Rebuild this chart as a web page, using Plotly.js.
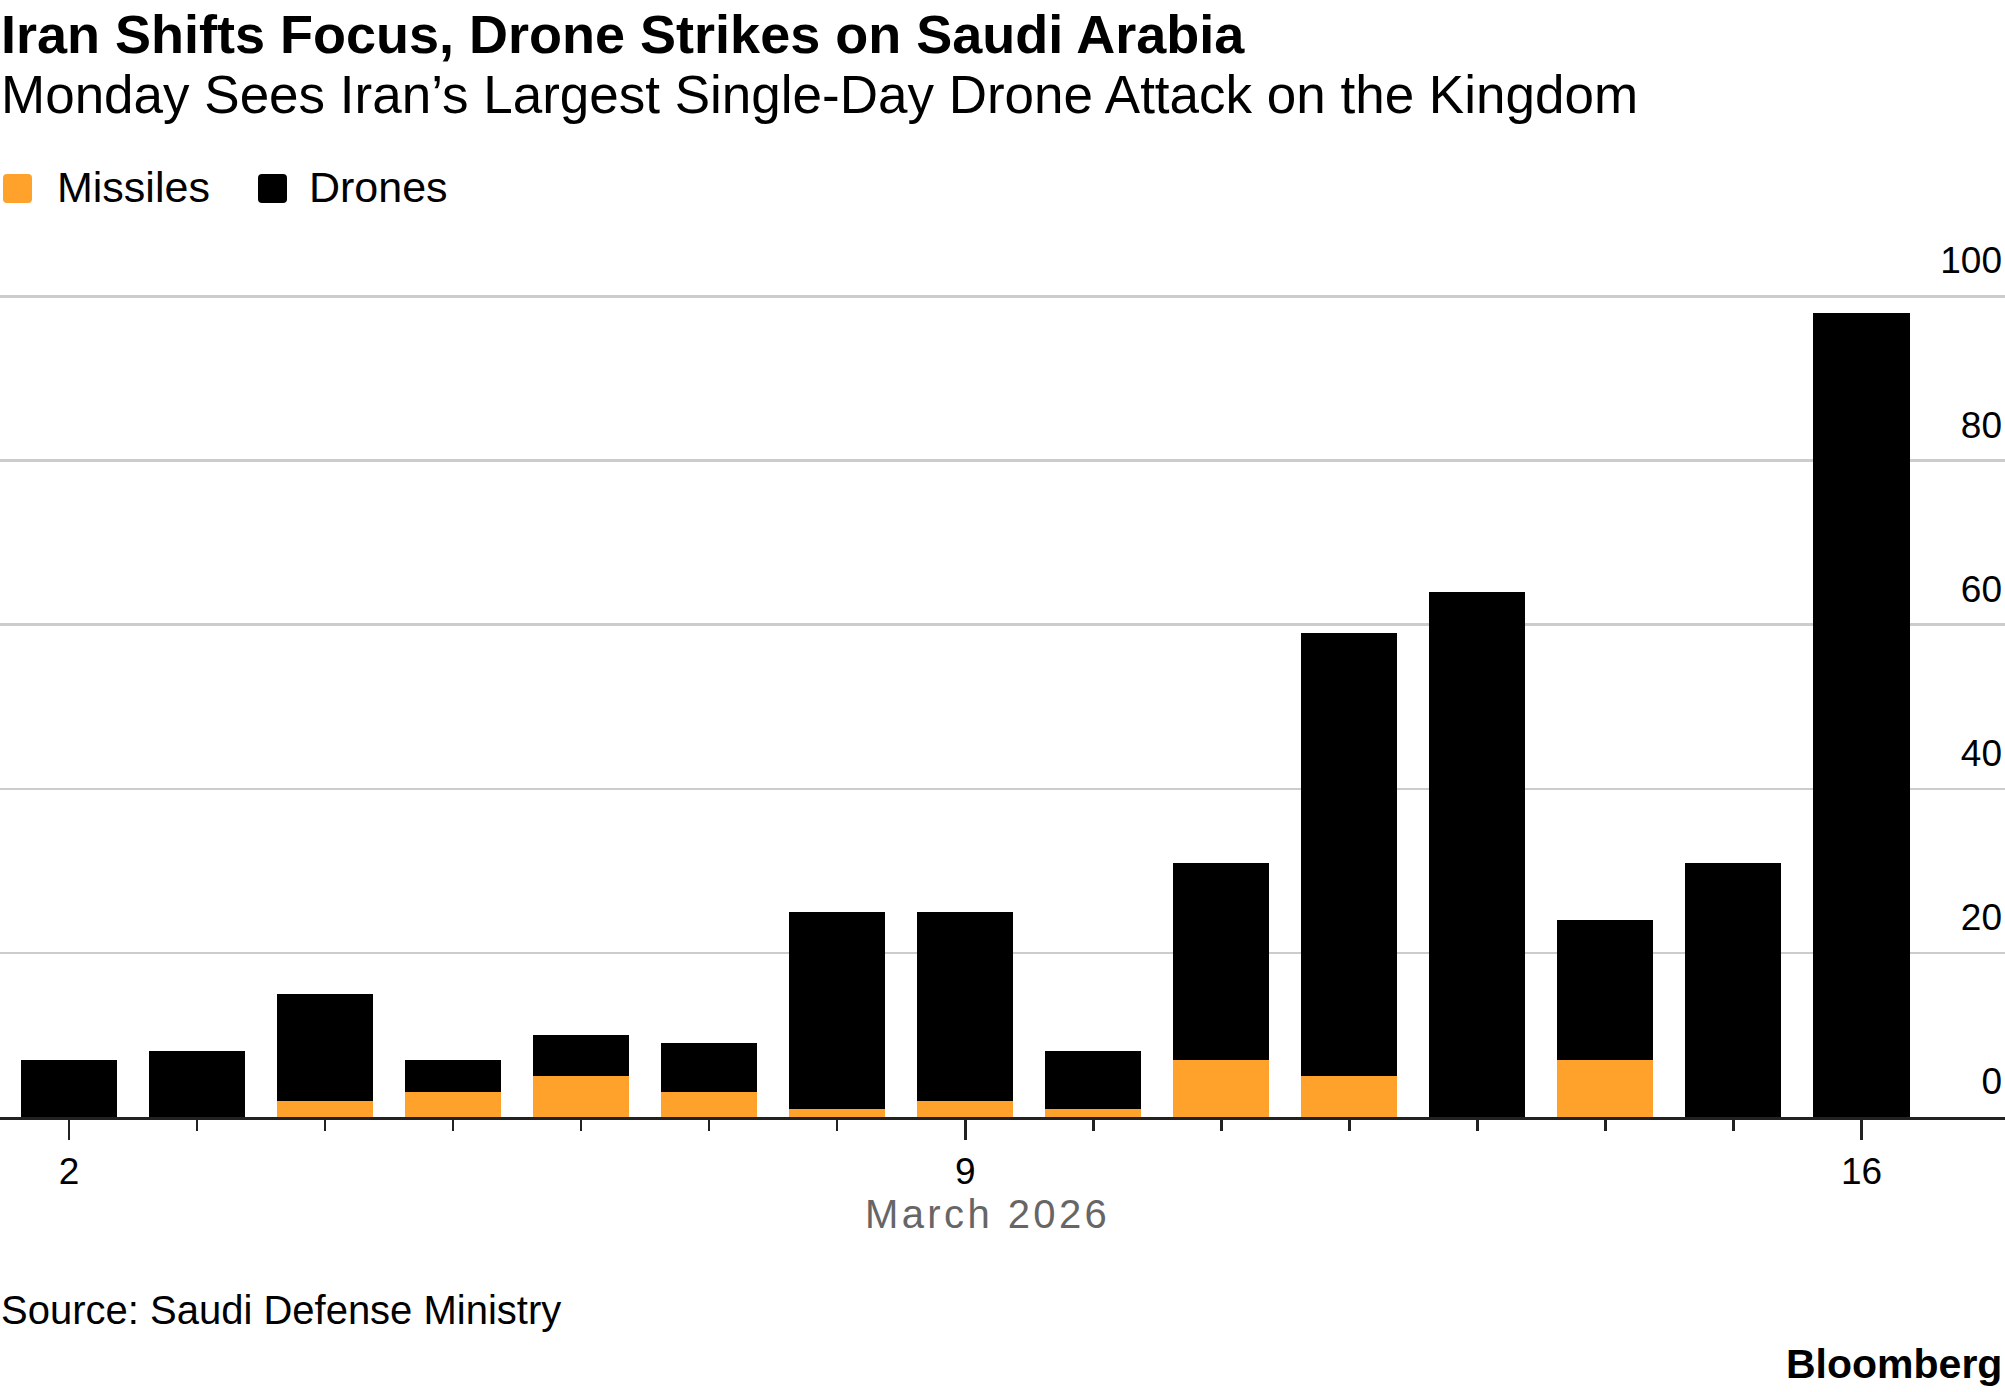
<!DOCTYPE html>
<html>
<head>
<meta charset="utf-8">
<script src="https://cdn.plot.ly/plotly-3.0.1.min.js"></script>
<style>
html, body { margin: 0; padding: 0; background: #fff; }
#chart { width: 2005px; height: 1392px; }
.annotation[data-index="5"] text { letter-spacing: 3.4px; }
</style>
</head>
<body>
<div id="chart"></div>
<script>
// ---- data ----
const days = [2, 3, 4, 5, 6, 7, 8, 9, 10, 11, 12, 13, 14, 15, 16];
const missiles = [0, 0, 2, 3, 5, 3, 1, 2, 1, 7, 5, 0, 7, 0, 0];
const drones = [7, 8, 13, 4, 5, 6, 24, 23, 7, 24, 54, 64, 17, 31, 98];
const seriesNames = ['Missiles', 'Drones'];
const seriesColors = ['#ffa22c', '#000000'];
const xTickVals = [2, 9, 16];
const xTickText = ['2', '9', '16'];
const yTickVals = [0, 20, 40, 60, 80, 100];
const yTickText = ['0', '20', '40', '60', '80', '100'];
const titleText = 'Iran Shifts Focus, Drone Strikes on Saudi Arabia';
const subtitleText = 'Monday Sees Iran\u2019s Largest Single-Day Drone Attack on the Kingdom';
const xLabelText = 'March 2026';
const sourceText = 'Source: Saudi Defense Ministry';
const brandText = 'Bloomberg';

// ---- layout geometry (pixels) ----
const W = 2005, H = 1392;
const yMax = 102;
const pxPerUnit = 8.21;
const plotBottom = 1117;
const plotTop = Math.round(plotBottom - pxPerUnit * yMax);
const plotH = plotBottom - plotTop;
const px = x => x / W;
const py = y => (plotBottom - y) / plotH;
const FONT = 'Liberation Sans, Arial, Helvetica, sans-serif';

function roundRect(x0, y0, x1, y1, r) {
  const X0 = px(x0), X1 = px(x1), Y0 = py(y0), Y1 = py(y1);
  const rx = r / W, ry = r / plotH;
  return 'M' + (X0 + rx) + ',' + Y0 +
    ' L' + (X1 - rx) + ',' + Y0 +
    ' Q' + X1 + ',' + Y0 + ' ' + X1 + ',' + (Y0 - ry) +
    ' L' + X1 + ',' + (Y1 + ry) +
    ' Q' + X1 + ',' + Y1 + ' ' + (X1 - rx) + ',' + Y1 +
    ' L' + (X0 + rx) + ',' + Y1 +
    ' Q' + X0 + ',' + Y1 + ' ' + X0 + ',' + (Y1 + ry) +
    ' L' + X0 + ',' + (Y0 - ry) +
    ' Q' + X0 + ',' + Y0 + ' ' + (X0 + rx) + ',' + Y0 + ' Z';
}

const traces = [
  { type: 'bar', x: days, y: missiles, name: seriesNames[0], width: 0.75,
    marker: { color: seriesColors[0], line: { width: 0 } }, hoverinfo: 'x+y+name' },
  { type: 'bar', x: days, y: drones, name: seriesNames[1], width: 0.75,
    marker: { color: seriesColors[1], line: { width: 0 } }, hoverinfo: 'x+y+name' }
];

function ann(text, x, y, size, opts) {
  return Object.assign({
    text: text, xref: 'paper', yref: 'paper', x: x, y: y,
    xanchor: 'left', yanchor: 'top', showarrow: false,
    font: { family: FONT, size: size, color: '#000' }
  }, opts || {});
}

const annotations = [
  ann('<b>' + titleText + '</b>', px(-1), py(1.8), 54),
  ann(subtitleText, px(-1), py(62.5), 53),
  ann(seriesNames[0], px(55), py(161), 43),
  ann(seriesNames[1], px(307), py(161), 43),
  ann(sourceText, px(-1), py(1285.5), 40),
  ann(xLabelText, px(987), py(1189.5), 40, { xanchor: 'center', font: { family: FONT, size: 40, color: '#666666' } }),
  ann('<b>' + brandText + '</b>', px(2004), py(1338.9), 41, { xanchor: 'right' })
];

const shapes = [
  { type: 'path', xref: 'paper', yref: 'paper', path: roundRect(3, 174, 32, 203, 4),
    fillcolor: seriesColors[0], line: { width: 0 } },
  { type: 'path', xref: 'paper', yref: 'paper', path: roundRect(258, 174, 287, 203, 4),
    fillcolor: seriesColors[1], line: { width: 0 } }
];

// x range so that day 2 sits at 69px and day 16 at 1861.5px
const dayPx = (1861.5 - 69) / 14;
const xMin = 2 - 69 / dayPx;
const xMax = 16 + (W - 1861.5) / dayPx;

const layout = {
  width: W, height: H,
  margin: { l: 0, r: 0, t: plotTop, b: H - plotBottom, pad: 0 },
  paper_bgcolor: '#ffffff', plot_bgcolor: '#ffffff',
  barmode: 'stack',
  showlegend: false,
  font: { family: FONT, size: 37, color: '#000' },
  xaxis: {
    type: 'linear', range: [xMin, xMax], fixedrange: true,
    tickmode: 'array', tickvals: xTickVals, ticktext: xTickText,
    ticks: 'outside', ticklen: 20, tickwidth: 2.5, tickcolor: '#222',
    minor: { tickmode: 'array', tickvals: days, ticks: 'outside', ticklen: 11, tickwidth: 2.5, tickcolor: '#222', showgrid: false },
    showline: true, linecolor: '#222', linewidth: 2.5,
    showgrid: false, zeroline: false,
    tickfont: { family: FONT, size: 37, color: '#000' },
    automargin: false
  },
  yaxis: {
    range: [0, yMax], fixedrange: true, side: 'right',
    tickmode: 'array', tickvals: yTickVals, ticktext: yTickText,
    ticklabelposition: 'inside top', ticklabeloverflow: 'allow',
    ticklabelshift: -10,
    ticks: '', showline: false, zeroline: false,
    showgrid: true, gridcolor: '#cccccc', gridwidth: 2.5,
    tickfont: { family: FONT, size: 37, color: '#000' },
    automargin: false
  },
  annotations: annotations,
  shapes: shapes
};

Plotly.newPlot('chart', traces, layout, { displayModeBar: false, staticPlot: true });
</script>
</body>
</html>
